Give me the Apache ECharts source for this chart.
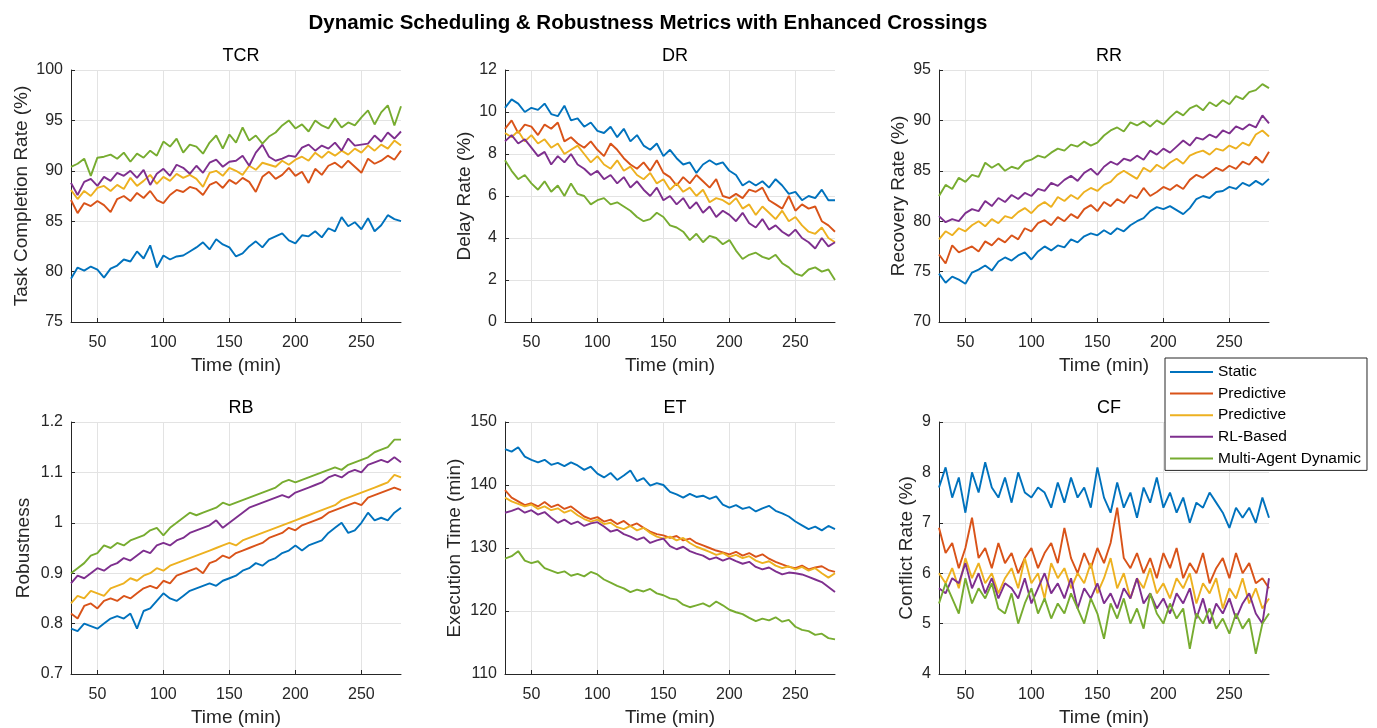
<!DOCTYPE html>
<html>
<head>
<meta charset="utf-8">
<script src="https://cdn.jsdelivr.net/npm/echarts@6/dist/echarts.min.js"></script>
<style>
html,body{margin:0;padding:0;background:#fff;}
#c{width:1377px;height:728px;}
</style>
</head>
<body>
<div id="c"></div>
<script>
// ---- data ----
const times = [30,35,40,45,50,55,60,65,70,75,80,85,90,95,100,105,110,115,120,125,130,135,140,145,150,155,160,165,170,175,180,185,190,195,200,205,210,215,220,225,230,235,240,245,250,255,260,265,270,275,280];
const seriesNames = ['Static','Predictive','Predictive ','RL-Based','Multi-Agent Dynamic'];
const xTicks = [50,100,150,200,250];

// TCR
const tcrStatic = [79.3,80.4,80.1,80.5,80.2,79.4,80.3,80.6,81.2,81.0, 82.0,81.3,82.6,80.4,81.6,81.2,81.5,81.6,82.0,82.4, 82.9,82.2,83.2,82.7,82.4,81.5,81.8,82.5,83.0,82.4, 83.2,83.5,83.8,83.1,82.8,83.6,83.5,84.0,83.4,84.3, 84.0,85.4,84.5,84.9,84.2,85.3,84.0,84.6,85.6,85.2, 85.0];
const tcrPred = [87.1,85.8,86.8,86.5,87.0,86.6,85.9,87.2,87.5,87.0, 87.8,87.3,88.0,87.1,86.8,87.6,88.1,87.9,88.4,88.2, 87.6,88.6,88.9,88.3,89.1,88.7,89.3,88.9,87.9,89.4, 89.9,89.2,89.6,90.3,89.5,89.9,88.8,90.2,89.6,90.5, 90.8,90.3,91.0,90.4,89.8,91.2,90.7,91.0,91.5,91.1, 92.0];
const tcrPred2 = [88.1,87.2,88.0,87.5,88.3,88.5,88.0,88.6,88.2,89.3, 88.5,89.0,89.6,88.7,89.4,89.0,89.7,89.3,89.6,89.2, 88.4,89.8,90.0,89.5,90.3,90.0,89.6,90.5,90.1,90.8, 90.6,90.4,91.0,90.6,91.1,91.4,91.0,91.8,91.3,91.9, 91.5,92.0,91.6,92.2,91.8,92.5,92.0,92.6,92.2,93.0, 92.5];
const tcrRL = [88.8,87.6,88.9,89.2,88.5,89.4,89.0,89.8,89.5,90.0, 89.3,90.1,88.6,89.7,90.2,89.5,90.6,90.3,89.7,90.5, 89.8,90.8,91.1,90.4,90.9,91.0,91.5,90.5,91.8,92.6, 91.4,91.0,91.2,91.5,91.4,92.3,92.6,92.0,92.5,92.2, 92.8,92.0,93.2,92.5,92.6,92.7,93.5,92.9,93.8,93.2, 93.9];
const tcrMulti = [90.4,90.7,91.2,89.5,91.3,91.4,91.6,91.2,91.8,90.9, 91.7,91.3,92.0,91.5,92.9,92.4,93.2,91.8,92.6,92.4, 91.7,92.8,93.5,92.2,93.6,92.8,94.3,93.0,93.5,92.7, 93.4,93.8,94.5,95.0,94.2,94.6,93.9,95.0,94.5,94.2, 95.2,94.3,94.8,94.5,95.3,96.0,94.6,95.8,96.5,94.5, 96.4];

// DR
const drStatic = [10.2,10.6,10.4,10.0,10.2,10.1,10.4,9.9,9.8,10.3, 9.6,9.7,9.3,9.5,9.1,9.0,9.3,8.8,9.2,8.6, 8.9,8.4,8.2,8.5,7.9,8.2,7.8,7.5,7.6,7.1, 7.5,7.7,7.5,7.6,7.2,7.0,6.5,6.7,6.5,6.7, 6.4,6.8,6.5,6.1,6.2,5.8,6.0,5.9,6.3,5.8, 5.8];
const drPred = [9.2,9.6,9.0,9.4,9.3,8.9,9.4,9.2,9.5,8.6, 8.8,8.5,8.3,8.6,8.2,7.9,8.5,8.2,7.8,7.5, 7.3,7.6,7.2,7.7,7.1,6.9,6.5,6.9,6.6,7.0, 6.7,6.4,6.8,6.0,5.9,6.1,5.9,6.3,6.2,6.4, 5.8,5.6,5.4,6.0,5.3,5.6,5.4,5.5,4.8,4.6, 4.3];
const drPred2 = [9.0,8.8,9.1,8.6,8.9,8.5,8.7,8.3,8.5,8.0, 8.2,8.4,8.0,7.6,7.9,7.5,7.3,7.7,7.2,7.4, 7.0,6.8,7.1,6.6,6.8,6.3,6.6,6.2,6.4,6.0, 6.3,5.7,5.9,5.8,5.6,5.9,5.4,5.6,5.1,5.5, 5.2,4.9,5.3,4.8,5.0,4.6,4.3,4.2,4.5,4.0, 3.8];
const drRL = [8.6,8.9,8.5,8.7,8.3,7.9,8.1,7.5,7.9,7.6, 8.0,7.5,7.3,7.0,7.2,6.8,7.0,6.6,6.9,6.4, 6.7,6.3,6.0,6.4,5.8,6.0,5.6,5.9,5.4,5.7, 5.2,5.5,5.0,5.3,5.1,4.8,5.2,4.7,4.5,4.9, 4.4,4.6,4.3,4.1,4.4,4.0,3.8,3.5,4.0,3.6, 3.8];
const drMulti = [7.7,7.2,6.8,7.0,6.6,6.3,6.7,6.2,6.5,6.0, 6.6,6.1,6.0,5.6,5.8,5.9,5.6,5.7,5.5,5.3, 5.0,4.8,4.9,5.2,5.0,4.6,4.5,4.3,3.9,4.2, 3.8,4.1,4.0,3.7,3.9,3.4,3.0,3.2,3.3,3.1, 3.0,3.2,2.8,2.6,2.3,2.2,2.5,2.6,2.4,2.5, 2.0];

// RR
const rrStatic = [74.8,73.9,74.5,74.2,73.8,74.9,75.2,75.6,75.1,76.0, 76.4,76.1,76.6,76.9,76.2,77.0,77.5,77.1,77.6,77.4, 78.2,77.9,78.5,78.8,78.6,79.1,78.7,79.3,79.0,79.6, 80.0,80.3,81.0,81.4,81.2,81.5,81.1,80.7,81.3,82.2, 82.5,82.3,82.9,83.0,83.4,83.2,83.8,83.5,84.0,83.6, 84.2];
const rrPred = [76.7,75.8,77.6,76.9,77.2,77.5,77.0,78.0,77.6,78.3, 77.9,78.6,78.2,79.3,79.0,79.8,80.1,79.6,80.4,80.0, 80.7,80.3,81.2,81.6,81.0,81.9,81.5,82.2,81.8,82.6, 82.3,83.3,82.5,82.9,83.4,83.1,83.6,83.2,84.1,84.6, 84.3,84.8,85.3,85.0,85.5,85.2,85.9,85.6,86.4,85.8, 86.9];
const rrPred2 = [78.2,79.0,78.6,79.3,79.0,79.6,80.0,79.5,80.2,79.8, 80.5,80.3,80.9,81.3,80.8,81.5,81.9,81.4,82.4,82.0, 82.6,82.2,82.9,83.3,83.0,83.6,83.9,84.6,85.0,84.6, 84.2,85.3,84.9,85.6,85.2,85.8,86.2,85.7,86.5,86.8, 87.0,86.6,87.2,87.0,87.5,87.2,87.8,87.5,88.6,89.0, 88.4];
const rrRL = [80.5,79.9,80.2,80.0,80.8,81.2,81.0,82.0,81.5,82.3, 81.9,82.6,82.2,82.8,82.5,83.2,83.0,83.8,83.5,84.1, 84.5,84.0,84.8,85.2,84.6,85.4,85.9,85.6,86.2,86.0, 86.5,86.1,87.0,86.6,87.2,86.8,87.4,88.0,87.5,88.3, 88.1,88.6,88.3,89.0,88.7,89.4,89.1,89.6,89.3,90.5, 89.7];
const rrMulti = [82.5,83.6,83.2,84.3,83.9,84.6,84.4,85.8,85.3,85.7, 85.0,85.4,85.2,85.9,86.1,86.5,86.3,86.8,87.2,87.0, 87.6,87.4,87.9,87.5,87.8,88.5,89.0,89.3,88.9,89.8, 89.5,89.9,89.4,90.0,89.6,90.3,90.9,90.5,91.2,91.5, 91.0,91.8,91.4,92.0,91.6,92.4,92.1,92.8,93.0,93.6, 93.2];

// RB
const rbStatic = [0.79,0.785,0.80,0.795,0.79,0.80,0.81,0.815,0.81,0.82, 0.79,0.825,0.83,0.845,0.86,0.85,0.845,0.855,0.865,0.87, 0.875,0.88,0.875,0.885,0.89,0.895,0.905,0.91,0.92,0.915, 0.925,0.93,0.94,0.945,0.955,0.945,0.955,0.96,0.965,0.98, 0.99,1.0,0.98,0.985,1.0,1.02,1.005,1.01,1.005,1.02, 1.03];
const rbPred = [0.82,0.81,0.835,0.84,0.83,0.845,0.85,0.845,0.855,0.85, 0.86,0.87,0.875,0.87,0.885,0.88,0.895,0.9,0.905,0.91, 0.9,0.92,0.925,0.935,0.93,0.94,0.945,0.95,0.955,0.96, 0.97,0.975,0.98,0.99,0.985,0.995,1.0,1.005,1.01,1.02, 1.025,1.03,1.035,1.04,1.035,1.05,1.055,1.06,1.065,1.07, 1.065];
const rbPred2 = [0.84,0.855,0.85,0.865,0.86,0.855,0.87,0.875,0.88,0.89, 0.885,0.895,0.9,0.91,0.905,0.915,0.92,0.925,0.93,0.935, 0.94,0.945,0.95,0.955,0.96,0.955,0.965,0.97,0.975,0.98, 0.985,0.99,0.995,1.0,1.005,1.01,1.015,1.02,1.025,1.03, 1.035,1.045,1.05,1.055,1.06,1.065,1.07,1.075,1.08,1.095, 1.09];
const rbRL = [0.88,0.895,0.89,0.9,0.91,0.905,0.915,0.92,0.93,0.925, 0.935,0.945,0.94,0.955,0.96,0.955,0.965,0.97,0.98,0.985, 0.99,0.995,1.005,0.99,1.0,1.01,1.02,1.03,1.035,1.04, 1.045,1.05,1.055,1.05,1.06,1.065,1.07,1.075,1.08,1.09, 1.095,1.09,1.1,1.105,1.1,1.115,1.12,1.125,1.12,1.13, 1.12];
const rbMulti = [0.9,0.91,0.92,0.935,0.94,0.955,0.95,0.96,0.955,0.965, 0.97,0.975,0.985,0.99,0.975,0.99,1.0,1.01,1.02,1.015, 1.02,1.025,1.03,1.04,1.035,1.04,1.045,1.05,1.055,1.06, 1.065,1.07,1.08,1.085,1.08,1.085,1.09,1.095,1.1,1.105, 1.11,1.105,1.115,1.12,1.125,1.13,1.14,1.145,1.15,1.165, 1.165];

// ET
const etStatic = [145.7,145.3,146.0,144.5,144.0,143.6,144.0,143.2,143.5,143.0, 143.6,143.1,142.4,142.9,141.8,141.2,141.9,140.8,141.5,142.3, 140.6,141.1,139.9,140.3,140.0,138.9,138.5,138.0,138.6,138.1, 138.3,137.8,138.2,136.9,136.4,136.8,136.2,136.5,135.8,136.3, 136.7,135.9,135.5,135.0,134.2,133.6,133.0,133.4,132.8,133.5, 133.0];
const etPred = [139.2,138.0,137.4,136.8,137.1,136.6,137.3,136.5,136.9,136.2, 136.6,135.8,135.0,134.6,134.9,134.2,134.5,133.8,134.3,133.5, 133.9,133.2,132.6,132.2,132.0,131.6,131.9,131.2,131.5,130.8, 130.4,130.0,129.6,129.3,129.0,129.4,128.8,129.2,128.6,129.0, 128.3,127.8,127.4,127.0,126.8,127.2,126.6,126.9,127.1,126.5, 126.2];
const etPred2 = [138.0,137.4,137.0,136.6,136.9,136.2,136.6,136.0,136.3,135.6, 136.0,135.2,134.6,134.2,134.5,133.8,134.0,133.3,133.0,133.5, 132.8,133.2,132.4,131.8,131.5,131.8,131.2,131.6,130.8,130.2, 129.8,129.4,128.9,129.2,128.6,128.9,128.4,128.7,128.0,127.6, 127.9,127.2,126.8,127.1,126.6,127.0,126.4,126.8,126.0,125.3, 126.0];
const etRL = [135.6,135.9,136.3,135.6,136.0,135.3,135.7,134.8,134.0,134.5, 133.8,134.2,133.5,133.9,134.1,133.4,132.6,132.9,132.2,131.8, 131.3,131.7,130.8,131.2,131.5,130.3,129.8,130.2,129.5,129.1, 128.8,128.2,128.5,128.0,128.4,127.9,127.5,127.8,127.0,126.6, 126.9,126.3,125.8,126.1,126.0,125.8,125.4,125.0,124.6,123.8, 123.0];
const etMulti = [128.3,128.7,129.5,128.0,127.6,127.9,126.8,126.4,126.0,126.3, 125.6,125.9,125.5,126.2,125.8,125.0,124.5,124.0,123.6,123.0, 123.4,123.1,123.5,122.8,122.5,122.0,121.8,121.0,120.6,120.9, 121.2,120.7,121.5,120.9,120.2,119.8,119.5,118.9,118.4,118.8, 118.5,119.0,118.3,118.6,117.5,117.0,116.8,116.2,116.4,115.7, 115.5];

// CF
const cfStatic = [7.7,8.1,7.5,7.9,7.2,8.0,7.6,8.2,7.7,7.5, 7.9,7.4,8.0,7.6,7.5,7.7,7.6,7.3,7.8,7.4, 7.9,7.5,7.7,7.3,8.1,7.5,7.2,7.8,7.3,7.6, 7.1,7.7,7.4,7.9,7.3,7.6,7.2,7.5,7.0,7.4, 7.3,7.6,7.4,7.2,6.9,7.3,7.1,7.3,7.0,7.5, 7.1];
const cfPred = [6.9,6.4,6.6,6.1,6.5,7.1,6.3,6.5,6.1,6.6, 6.2,6.4,6.0,6.3,6.5,6.1,6.4,6.6,6.2,6.9, 6.3,6.0,6.4,6.1,6.5,6.2,6.6,7.3,6.3,6.1, 6.4,6.0,6.3,5.9,6.4,6.1,6.5,5.9,6.2,6.0, 6.4,5.8,6.1,6.3,5.9,6.4,6.0,6.2,5.8,5.9, 5.7];
const cfPred2 = [6.0,5.8,6.1,5.7,6.3,5.9,6.2,5.8,6.0,5.6, 5.9,6.1,5.7,6.3,5.8,6.0,5.5,6.2,5.9,6.1, 5.7,6.0,5.8,6.2,5.6,5.9,6.3,5.7,6.0,5.5, 5.9,5.7,6.1,5.6,5.8,5.5,5.9,5.7,6.0,5.4, 5.8,5.6,5.9,5.3,5.7,5.5,5.9,5.4,5.7,5.3, 5.5];
const cfRL = [5.7,5.6,5.9,5.8,6.2,5.7,6.0,5.6,5.9,5.5, 5.8,5.7,5.5,5.9,5.4,5.7,6.0,5.6,5.8,5.5, 5.9,5.3,5.7,5.5,5.8,5.4,5.6,5.3,5.7,5.5, 5.9,5.4,5.6,5.3,5.5,5.2,5.6,5.4,5.7,5.1, 5.5,5.0,5.4,5.2,5.5,5.1,5.4,5.6,5.2,5.0, 5.9];
const cfMulti = [5.4,5.8,5.5,5.2,5.9,5.4,5.7,5.5,5.8,5.3, 5.2,5.6,5.0,5.4,5.7,5.2,5.5,5.1,5.4,5.2, 5.6,5.3,5.0,5.5,5.2,4.7,5.4,5.1,5.5,5.0, 5.3,4.9,5.6,5.2,5.0,5.4,5.1,5.3,4.5,5.2, 5.0,5.3,4.9,5.1,4.8,5.2,4.9,5.1,4.4,5.0, 5.2];

// ---- chart ----
const colors = ['#0072BD','#D95319','#EDB120','#7E2F8E','#77AC30'];
const FONT = '"Liberation Sans", Arial, Helvetica, sans-serif';
const AX = '#262626';

const panels = [
  {t:'TCR', y:'Task Completion Rate (%)', min:75, max:100, iv:5, gap:40, d:[tcrStatic,tcrPred,tcrPred2,tcrRL,tcrMulti]},
  {t:'DR',  y:'Delay Rate (%)', min:0, max:12, iv:2, gap:31, d:[drStatic,drPred,drPred2,drRL,drMulti]},
  {t:'RR',  y:'Recovery Rate (%)', min:70, max:95, iv:5, gap:31, d:[rrStatic,rrPred,rrPred2,rrRL,rrMulti]},
  {t:'RB',  y:'Robustness', min:0.7, max:1.2, iv:0.1, gap:38, d:[rbStatic,rbPred,rbPred2,rbRL,rbMulti]},
  {t:'ET',  y:'Execution Time (min)', min:110, max:150, iv:10, gap:41, d:[etStatic,etPred,etPred2,etRL,etMulti]},
  {t:'CF',  y:'Conflict Rate (%)', min:4, max:9, iv:1, gap:23, d:[cfStatic,cfPred,cfPred2,cfRL,cfMulti]}
];
const pos = [[71,70],[505,70],[939,70],[71,422],[505,422],[939,422]];
const W = 330, H = 252;

const grid = [], xAxis = [], yAxis = [], series = [];
const title = [{
  text:'Dynamic Scheduling & Robustness Metrics with Enhanced Crossings',
  left:643, top:8, textAlign:'center',
  textStyle:{fontFamily:FONT, fontSize:20.5, fontWeight:'bold', color:'#000'}
}];
panels.forEach((p,i)=>{
  grid.push({left:pos[i][0], top:pos[i][1], width:W, height:H, containLabel:false});
  title.push({text:p.t, left:pos[i][0]+W/2, top:pos[i][1]-28, textAlign:'center',
    textStyle:{fontFamily:FONT, fontSize:18, fontWeight:'normal', color:'#000'}});
  xAxis.push({
    type:'value', gridIndex:i, min:30, max:280,
    name:'Time (min)', nameLocation:'middle', nameGap:34,
    nameTextStyle:{fontFamily:FONT, fontSize:19, color:AX},
    axisLine:{show:true, lineStyle:{color:AX, width:1}},
    axisTick:{show:true, inside:true, length:4, lineStyle:{color:AX}, customValues:xTicks},
    axisLabel:{fontFamily:FONT, fontSize:16, color:AX, margin:13, customValues:xTicks},
    splitLine:{show:true, lineStyle:{color:'#e3e3e3', width:1}}
  });
  yAxis.push({
    type:'value', gridIndex:i, min:p.min, max:p.max, interval:p.iv,
    name:p.y, nameLocation:'middle', nameGap:p.gap, nameRotate:90,
    nameTextStyle:{fontFamily:FONT, fontSize:19, color:AX},
    axisLine:{show:true, lineStyle:{color:AX, width:1}},
    axisTick:{show:true, inside:true, length:4, lineStyle:{color:AX}},
    axisLabel:{fontFamily:FONT, fontSize:16, color:AX, margin:8},
    splitLine:{show:true, lineStyle:{color:'#e3e3e3', width:1}}
  });
  p.d.forEach((vals,k)=>{
    series.push({
      type:'line', name:seriesNames[k], xAxisIndex:i, yAxisIndex:i,
      data: times.map((t,j)=>[t, vals[j]]),
      symbol:'none', showSymbol:false, animation:false,
      lineStyle:{color:colors[k], width:1.9},
      itemStyle:{color:colors[k]}
    });
  });
});

const chart = echarts.init(document.getElementById('c'), null, {renderer:'canvas'});
chart.setOption({
  animation:false,
  backgroundColor:'#fff',
  color:colors,
  title, grid, xAxis, yAxis, series,
  legend:{
    data:seriesNames.map(n=>({name:n, icon:'rect'})), orient:'vertical', left:1165, top:358,
    backgroundColor:'#fff', borderColor:'#262626', borderWidth:1,
    padding:[6,6,4,5], itemWidth:43, itemHeight:2, itemGap:5.6,
    textStyle:{fontFamily:FONT, fontSize:15.5, lineHeight:16, color:'#000'},
    selectedMode:false
  }
});
</script>
</body>
</html>
